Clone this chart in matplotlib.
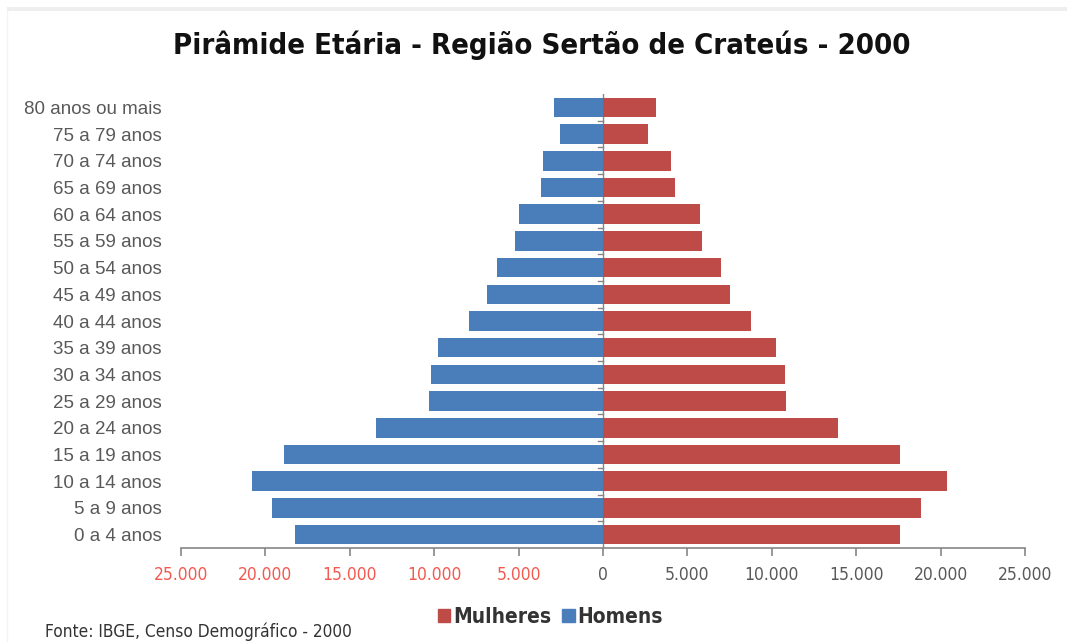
import matplotlib
matplotlib.use("Agg")
import matplotlib.pyplot as plt
from matplotlib.patches import Rectangle
from matplotlib.lines import Line2D

faixas = ["0 a 4 anos", "5 a 9 anos", "10 a 14 anos", "15 a 19 anos", "20 a 24 anos",
          "25 a 29 anos", "30 a 34 anos", "35 a 39 anos", "40 a 44 anos", "45 a 49 anos",
          "50 a 54 anos", "55 a 59 anos", "60 a 64 anos", "65 a 69 anos", "70 a 74 anos",
          "75 a 79 anos", "80 anos ou mais"]
homens = [18250, 19610, 20780, 18900, 13450, 10320, 10180, 9770, 7910, 6845,
          6290, 5200, 5000, 3700, 3580, 2570, 2930]
mulheres = [17590, 18840, 20360, 17590, 13940, 10870, 10810, 10260, 8780, 7550,
            7000, 5890, 5770, 4270, 4010, 2690, 3160]
xticks = [-25000, -20000, -15000, -10000, -5000, 0, 5000, 10000, 15000, 20000, 25000]

AZUL = "#4A7EBB"
VERMELHO = "#BE4B48"
CINZA = "#868686"
NARROW = dict(family="DejaVu Sans", stretch="condensed")
REG = ["Liberation Sans", "DejaVu Sans"]

fig = plt.figure(figsize=(10.67, 6.42), dpi=100)
fig.patches.append(Rectangle((0.007, 0.983), 0.993, 0.006, transform=fig.transFigure,
                             color="#EEEEEE", lw=0))
fig.add_artist(Line2D([0.007, 0.007], [0.0, 0.983], color="#F4F4F4", lw=1))

ax = fig.add_axes([0.1696, 0.1464, 0.7910, 0.7072])
y = range(len(faixas))
ax.barh(y, [-h for h in homens], height=0.73, color=AZUL, zorder=2)
ax.barh(y, mulheres, height=0.73, color=VERMELHO, zorder=2)

ax.set_xlim(-25000, 25000)
ax.set_ylim(-0.5, len(faixas) - 0.5)

for s in ["top", "right", "left"]:
    ax.spines[s].set_visible(False)
ax.spines["bottom"].set_color(CINZA)
ax.spines["bottom"].set_linewidth(1.2)

ax.set_xticks(xticks)
ax.set_xticklabels([f"{abs(v):,}".replace(",", ".") for v in xticks], fontsize=12.5, **NARROW)
for lbl, v in zip(ax.get_xticklabels(), xticks):
    lbl.set_color("#F25A50" if v < 0 else "#595959")
ax.tick_params(axis="x", direction="out", length=6, width=1.2, color=CINZA, pad=7)

ax.set_yticks(list(y))
ax.set_yticklabels(faixas, family=REG, fontsize=13.5, color="#595959")
ax.tick_params(axis="y", length=0, pad=14)

# eixo vertical no zero
ax.axvline(0, color=CINZA, lw=1, zorder=1)
for b in [i - 0.5 for i in range(1, len(faixas))]:
    ax.plot([-300, 0], [b, b], color=CINZA, lw=1, zorder=1)

fig.text(0.508, 0.930, "Pirâmide Etária - Região Sertão de Crateús - 2000",
         ha="center", va="center", fontsize=21, weight="bold", color="#111111", **NARROW)

leg = [Rectangle((0, 0), 1, 1, color=VERMELHO), Rectangle((0, 0), 1, 1, color=AZUL)]
fig.legend(leg, ["Mulheres", "Homens"], loc="center", bbox_to_anchor=(0.516, 0.039),
           ncol=2, frameon=False, handlelength=0.6, handleheight=0.6, handletextpad=0.15,
           columnspacing=0.5, prop=dict(size=15, weight="bold", **NARROW),
           labelcolor="#333333")

fig.text(0.042, 0.016, "Fonte: IBGE, Censo Demográfico - 2000", ha="left", va="center",
         fontsize=12.4, color="#333333", **NARROW)

fig.savefig("out.png", dpi=100)
